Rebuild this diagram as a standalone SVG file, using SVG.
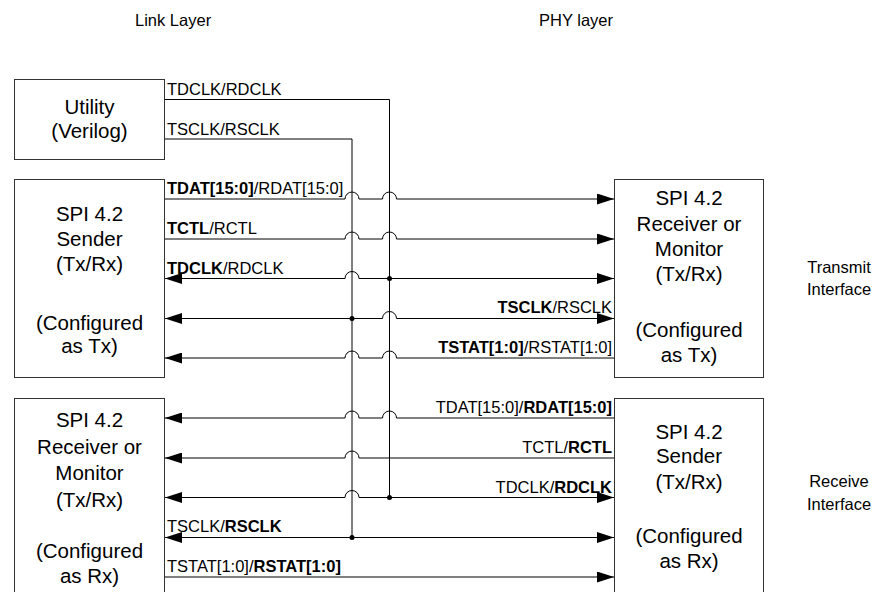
<svg xmlns="http://www.w3.org/2000/svg" width="876" height="592" viewBox="0 0 876 592">
<style>
  text { font-family: "Liberation Sans", Arial, sans-serif; fill: #000; }
  .lbl { font-size: 16.5px; }
  .box text { font-size: 20.5px; text-anchor: middle; }
  .box rect { fill: #fff; stroke: #333; stroke-width: 1; }
  .b { font-weight: bold; }
  .end { text-anchor: end; }
  .mid { text-anchor: middle; }
  .wire { fill: none; stroke: #000; stroke-width: 1; }
  .dot { fill: #000; }
</style>
<defs>
  <marker id="arr" viewBox="0 0 17 11" refX="17" refY="5.5" markerWidth="17" markerHeight="11" markerUnits="userSpaceOnUse" orient="auto-start-reverse">
    <path d="M0,0 L17,5.5 L0,11 z" fill="#000"/>
  </marker>
</defs>
<rect width="876" height="592" fill="#fff"/>

<text class="lbl" x="135" y="26">Link Layer</text>
<text class="lbl" x="539" y="26">PHY layer</text>
<text class="lbl mid" x="839" y="273">Transmit</text>
<text class="lbl mid" x="839" y="295">Interface</text>
<text class="lbl mid" x="839" y="487">Receive</text>
<text class="lbl mid" x="839" y="510">Interface</text>

<g id="utility" class="box">
  <rect x="14.5" y="79.5" width="150" height="80"/>
  <text x="89.5" y="114">Utility</text>
  <text x="89.5" y="137.5">(Verilog)</text>
</g>
<g id="tx-sender" class="box">
  <rect x="14.5" y="179.5" width="150" height="198"/>
  <text x="89.5" y="221">SPI 4.2</text>
  <text x="89.5" y="245.5">Sender</text>
  <text x="89.5" y="271">(Tx/Rx)</text>
  <text x="89.5" y="329.5">(Configured</text>
  <text x="89.5" y="353">as Tx)</text>
</g>
<g id="tx-receiver" class="box">
  <rect x="614.5" y="179.5" width="149" height="198"/>
  <text x="689" y="205">SPI 4.2</text>
  <text x="689" y="230.5">Receiver or</text>
  <text x="689" y="256">Monitor</text>
  <text x="689" y="281">(Tx/Rx)</text>
  <text x="689" y="337">(Configured</text>
  <text x="689" y="362">as Tx)</text>
</g>
<g id="rx-receiver" class="box">
  <rect x="14.5" y="398.5" width="150" height="210"/>
  <text x="89.5" y="427">SPI 4.2</text>
  <text x="89.5" y="453.5">Receiver or</text>
  <text x="89.5" y="480">Monitor</text>
  <text x="89.5" y="506.5">(Tx/Rx)</text>
  <text x="89.5" y="557.5">(Configured</text>
  <text x="89.5" y="583">as Rx)</text>
</g>
<g id="rx-sender" class="box">
  <rect x="614.5" y="398.5" width="149" height="210"/>
  <text x="689" y="438.5">SPI 4.2</text>
  <text x="689" y="462.5">Sender</text>
  <text x="689" y="488.5">(Tx/Rx)</text>
  <text x="689" y="542.5">(Configured</text>
  <text x="689" y="567.5">as Rx)</text>
</g>

<g id="connectors">
  <!-- utility clocks -->
  <path class="wire" d="M165,99.5 H389.5 V497.5"/>
  <path class="wire" d="M165,139 H352 V537.5"/>
  <!-- transmit interface -->
  <path class="wire" marker-end="url(#arr)" d="M165,199 H345 a7,7 0 0 1 14,0 H382.5 a7,7 0 0 1 14,0 H614"/>
  <path class="wire" marker-end="url(#arr)" d="M165,239 H345 a7,7 0 0 1 14,0 H382.5 a7,7 0 0 1 14,0 H614"/>
  <path class="wire" marker-start="url(#arr)" marker-end="url(#arr)" d="M165,278.5 H345 a7,7 0 0 1 14,0 H614"/>
  <path class="wire" marker-start="url(#arr)" marker-end="url(#arr)" d="M165,318.5 H382.5 a7,7 0 0 1 14,0 H614"/>
  <path class="wire" marker-start="url(#arr)" d="M165,358 H345 a7,7 0 0 1 14,0 H382.5 a7,7 0 0 1 14,0 H614"/>
  <!-- receive interface -->
  <path class="wire" marker-start="url(#arr)" d="M165,418 H345 a7,7 0 0 1 14,0 H382.5 a7,7 0 0 1 14,0 H614"/>
  <path class="wire" marker-start="url(#arr)" d="M165,458 H345 a7,7 0 0 1 14,0 H614"/>
  <path class="wire" marker-start="url(#arr)" marker-end="url(#arr)" d="M165,497.5 H345 a7,7 0 0 1 14,0 H614"/>
  <path class="wire" marker-start="url(#arr)" marker-end="url(#arr)" d="M165,537.5 H614"/>
  <path class="wire" marker-end="url(#arr)" d="M165,577 H614"/>
  <!-- junctions -->
  <circle class="dot" cx="389.5" cy="278.5" r="2.5"/>
  <circle class="dot" cx="352" cy="318.5" r="2.5"/>
  <circle class="dot" cx="389.5" cy="497.5" r="2.5"/>
  <circle class="dot" cx="352" cy="537.5" r="2.5"/>
  <!-- labels -->
  <text class="lbl" x="167" y="95">TDCLK/RDCLK</text>
  <text class="lbl" x="167" y="135">TSCLK/RSCLK</text>
  <text class="lbl" x="167" y="193.5"><tspan class="b">TDAT[15:0]</tspan>/RDAT[15:0]</text>
  <text class="lbl" x="167" y="233.5"><tspan class="b">TCTL</tspan>/RCTL</text>
  <text class="lbl" x="167" y="273.5"><tspan class="b">TDCLK</tspan>/RDCLK</text>
  <text class="lbl end" x="612" y="313"><tspan class="b">TSCLK</tspan>/RSCLK</text>
  <text class="lbl end" x="612" y="353"><tspan class="b">TSTAT[1:0]</tspan>/RSTAT[1:0]</text>
  <text class="lbl end" x="612" y="413">TDAT[15:0]/<tspan class="b">RDAT[15:0]</tspan></text>
  <text class="lbl end" x="612" y="453">TCTL/<tspan class="b">RCTL</tspan></text>
  <text class="lbl end" x="612" y="493">TDCLK/<tspan class="b">RDCLK</tspan></text>
  <text class="lbl" x="167" y="532">TSCLK/<tspan class="b">RSCLK</tspan></text>
  <text class="lbl" x="167" y="572">TSTAT[1:0]/<tspan class="b">RSTAT[1:0]</tspan></text>
</g>
</svg>
